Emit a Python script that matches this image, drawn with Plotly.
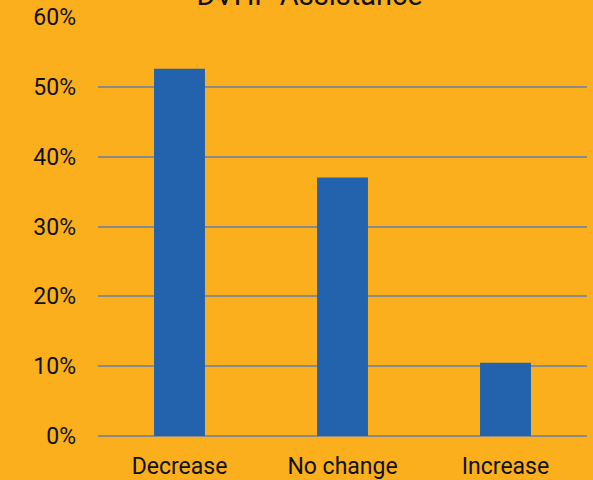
import plotly.graph_objects as go

categories = ["Decrease", "No change", "Increase"]
values = [0.526, 0.370, 0.105]
y_ticks = [0, 0.1, 0.2, 0.3, 0.4, 0.5, 0.6]
title_text = "DVHP Assistance"

BG = "#FBAF1C"
BAR = "#2363AE"
GRID = "#8A8A8A"
TXT = "#111111"

fig = go.Figure(go.Bar(x=categories, y=values, marker=dict(color=BAR, line=dict(width=0))))

fig.update_layout(
    width=593, height=480,
    margin=dict(l=97.5, r=6, t=17, b=44, autoexpand=False),
    paper_bgcolor=BG, plot_bgcolor=BG,
    bargap=0.6875,
    showlegend=False,
    font=dict(family="Roboto", size=23, color=TXT),
    title=dict(text=title_text, font=dict(family="Roboto", size=29, color=TXT),
               x=309.5/593, xanchor="center", xref="container",
               y=1 - 5/480, yanchor="bottom", yref="container", automargin=False),
)
fig.update_xaxes(showgrid=False, showline=False, zeroline=False, ticks="",
                 automargin=False,
                 ticklabelstandoff=14, tickfont=dict(size=23, color=TXT))
fig.update_yaxes(range=[0, 0.6], tickvals=y_ticks, tickformat=".0%",
                 automargin=False,
                 showgrid=True, gridcolor=GRID, gridwidth=2,
                 zeroline=True, zerolinecolor=GRID, zerolinewidth=2,
                 showline=False, ticks="", ticklabelstandoff=21,
                 tickfont=dict(size=23, color=TXT))

fig.write_html("out.html")
